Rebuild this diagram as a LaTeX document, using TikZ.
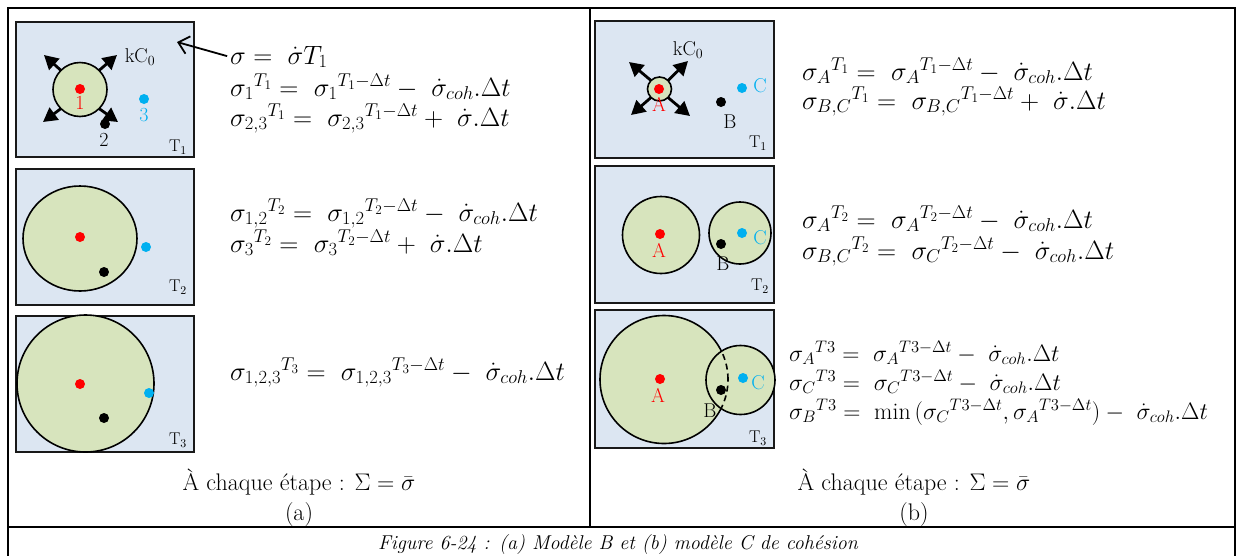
\RequirePackage{fix-cm}
\documentclass[tikz,border=0pt]{standalone}
\usepackage{fontspec}
\usetikzlibrary{arrows.meta,shapes.geometric}
\definecolor{boxblue}{RGB}{220,230,242}
\definecolor{diskgreen}{RGB}{215,228,189}
\definecolor{cyanblue}{RGB}{0,176,240}
\newcommand{\eqfont}{\fontsize{26.5}{30}\selectfont}
\newcommand{\eqfontsmall}{\fontsize{23.8}{28}\selectfont}
\tikzset{
  frame/.style={draw=black, line width=2pt},
  panel/.style={draw=black!90, line width=2pt, fill=boxblue},
  disk/.style={draw=black, line width=1.6pt, fill=diskgreen, inner sep=0pt, outer sep=0pt},
  ptdot/.style={circle, inner sep=0pt, minimum size=10pt},
  lbl/.style={font=\fontsize{20}{24}\selectfont, inner sep=0pt},
  tlbl/.style={font=\fontsize{17}{20}\selectfont, inner sep=0pt},
  eqn/.style={anchor=base west, inner sep=0pt, font=\eqfont},
  eqns/.style={anchor=base west, inner sep=0pt, font=\eqfontsmall},
  bigarrow/.style={-{Triangle[length=14pt,width=15pt]}, line width=2.8pt},
  pointer/.style={-{Straight Barb[length=10pt,width=18pt]}, line width=1.8pt},
  caption/.style={font=\fontsize{24}{28}\selectfont, inner sep=0pt, anchor=base}
}
\begin{document}
\begin{tikzpicture}[x=1pt,y=-1pt]
\useasboundingbox (0,0) rectangle (1236,555);
% frame
\draw[frame] (8,560) -- (8,8) -- (1235,8) -- (1235,560);
\draw[frame] (8,527) -- (1235,527);
\draw[frame] (590,8) -- (590,527);

% ===== LEFT PANEL =====
% T1
\draw[panel] (16,22) rectangle (194,157);
\node[disk, circle, minimum size=54pt] (c1) at (80,89.5) {};
\coordinate (c1ne) at (117,55);
\coordinate (c1nw) at (44,55);
\coordinate (c1sw) at (43,122);
\coordinate (c1se) at (118,122);
\draw[bigarrow] (c1.north east) -- (c1ne);
\draw[bigarrow] (c1.north west) -- (c1nw);
\draw[bigarrow] (c1.south west) -- (c1sw);
\draw[bigarrow] (c1.south east) -- (c1se);
\node[ptdot, fill=red] (p1) at (80,89) {};
\node[lbl, text=red] (l1) at (80,103) {1};
\node[ptdot, fill=black] (p2) at (105,124) {};
\node[lbl] (l2) at (104,140) {2};
\node[ptdot, fill=cyanblue] (p3) at (144,99) {};
\node[lbl, text=cyanblue] (l3) at (144,115) {3};
\node[lbl] (k1) at (140,57) {kC$_0$};
\node[tlbl] (t1) at (178,147) {T$_1$};
\coordinate (LT1corner) at (177,42);

\node[eqn] (e1) at (230,64) {$\sigma =\ \dot{\sigma}T_1$};
\node[eqn] (e2) at (230,96) {${\sigma_1}^{T_1} =\ {\sigma_1}^{T_1-\Delta t} -\ \dot{\sigma}_{coh}.\Delta t$};
\node[eqn] (e3) at (230,126) {${\sigma_{2,3}}^{T_1} =\ {\sigma_{2,3}}^{T_1-\Delta t} +\ \dot{\sigma}.\Delta t$};
\draw[pointer, shorten <=3pt] (e1.west) -- (LT1corner);

% T2
\draw[panel] (16,169) rectangle (194,305);
\node[disk, ellipse, minimum width=114pt, minimum height=105pt] (c2) at (80,238.5) {};
\node[ptdot, fill=red] (q1) at (80,237) {};
\node[ptdot, fill=cyanblue] (q3) at (146,247) {};
\node[ptdot, fill=black] (q2) at (104,272) {};
\node[tlbl] (t2) at (178,287) {T$_2$};
\node[eqn] (e4) at (230,221) {${\sigma_{1,2}}^{T_2} =\ {\sigma_{1,2}}^{T_2-\Delta t} -\ \dot{\sigma}_{coh}.\Delta t$};
\node[eqn] (e5) at (230,252) {${\sigma_3}^{T_2} =\ {\sigma_3}^{T_2-\Delta t} +\ \dot{\sigma}.\Delta t$};

% T3
\draw[panel] (16,316) rectangle (194,452);
\node[disk, circle, minimum size=137pt] (c3) at (85.5,383.5) {};
\node[ptdot, fill=red] (r1) at (80,384) {};
\node[ptdot, fill=cyanblue] (r3) at (149,393) {};
\node[ptdot, fill=black] (r2) at (104,418) {};
\node[tlbl] (t3) at (178,440) {T$_3$};
\node[eqn] (e6) at (230,380) {${\sigma_{1,2,3}}^{T_3} =\ {\sigma_{1,2,3}}^{T_3-\Delta t} -\ \dot{\sigma}_{coh}.\Delta t$};

\node[caption] (sa) at (299,490) {À chaque étape : $\Sigma = \bar{\sigma}$};
\node[caption] (pa) at (299,520) {(a)};

% ===== RIGHT PANEL =====
% T1
\draw[panel] (595,21) rectangle (774,158);
\node[disk, circle, minimum size=24pt] (d1) at (659.5,89) {};
\coordinate (d1ne) at (688,61);
\coordinate (d1nw) at (629,62);
\coordinate (d1sw) at (631,115);
\coordinate (d1se) at (690,116);
\draw[bigarrow] (d1.north east) -- (d1ne);
\draw[bigarrow] (d1.north west) -- (d1nw);
\draw[bigarrow] (d1.south west) -- (d1sw);
\draw[bigarrow] (d1.south east) -- (d1se);
\node[ptdot, fill=red] (a1) at (659,89) {};
\node[lbl, text=red] (la1) at (659,104) {A};
\node[ptdot, fill=black] (b1) at (721,102) {};
\node[lbl] (lb1) at (730,122) {B};
\node[ptdot, fill=cyanblue] (cc1) at (742,88) {};
\node[lbl, text=cyanblue] (lc1) at (760,86) {C};
\node[lbl] (k2) at (688,50) {kC$_0$};
\node[tlbl] (u1) at (758,143) {T$_1$};
\node[eqn] (f1) at (802,80) {${\sigma_A}^{T_1} =\ {\sigma_A}^{T_1-\Delta t} -\ \dot{\sigma}_{coh}.\Delta t$};
\node[eqn] (f2) at (802,109) {${\sigma_{B,C}}^{T_1} =\ {\sigma_{B,C}}^{T_1-\Delta t} +\ \dot{\sigma}.\Delta t$};

% T2
\draw[panel] (595,166) rectangle (774,303);
\node[disk, circle, minimum size=77pt] (dA2) at (661,235) {};
\node[disk, circle, minimum size=62pt] (dC2) at (740,233) {};
\node[ptdot, fill=red] (a2) at (660,234) {};
\node[lbl, text=red] (la2) at (659,250) {A};
\node[ptdot, fill=black] (b2) at (721,244) {};
\node[lbl] (lb2) at (723,264) {B};
\node[ptdot, fill=cyanblue] (cc2) at (742,233) {};
\node[lbl, text=cyanblue] (lc2) at (760,238) {C};
\node[tlbl] (u2) at (760,286) {T$_2$};
\node[eqn] (f3) at (802,228) {${\sigma_A}^{T_2} =\ {\sigma_A}^{T_2-\Delta t} -\ \dot{\sigma}_{coh}.\Delta t$};
\node[eqn] (f4) at (802,259) {${\sigma_{B,C}}^{T_2} =\ {\sigma_C}^{T_2-\Delta t} -\ \dot{\sigma}_{coh}.\Delta t$};

% T3
\draw[panel] (595,310) rectangle (774,448);
\node[disk, circle, minimum size=128pt] (dA3) at (664,379.5) {};
\node[disk, circle, minimum size=69pt] (dC3) at (740.5,380) {};
\begin{scope}
  \clip (740.5,380) circle[radius=34.5pt];
  \draw[line width=1.6pt, dashed, dash pattern=on 6pt off 4pt] (664,379.5) circle[radius=64pt];
\end{scope}
\node[ptdot, fill=red] (a3) at (660,379) {};
\node[lbl, text=red] (la3) at (658,395) {A};
\node[ptdot, fill=black] (b3) at (721,390) {};
\node[lbl] (lb3) at (710,411) {B};
\node[ptdot, fill=cyanblue] (cc3) at (743,378) {};
\node[lbl, text=cyanblue] (lc3) at (758,383) {C};
\node[tlbl] (u3) at (758,438) {T$_3$};
\node[eqns] (f5) at (789,361) {${\sigma_A}^{T3} =\ {\sigma_A}^{T3-\Delta t} -\ \dot{\sigma}_{coh}.\Delta t$};
\node[eqns] (f6) at (789,390) {${\sigma_C}^{T3} =\ {\sigma_C}^{T3-\Delta t} -\ \dot{\sigma}_{coh}.\Delta t$};
\node[eqns] (f7) at (789,419) {${\sigma_B}^{T3} =\ \min\,({\sigma_C}^{T3-\Delta t}, {\sigma_A}^{T3-\Delta t}) -\ \dot{\sigma}_{coh}.\Delta t$};

\node[caption] (sb) at (914,490) {À chaque étape : $\Sigma = \bar{\sigma}$};
\node[caption] (pb) at (914,520) {(b)};

% caption
\node[caption, font=\fontsize{20}{24}\selectfont\itshape] (fig) at (618,549) {Figure 6-24 : (a) Modèle B et (b) modèle C de cohésion};
\end{tikzpicture}
\end{document}
